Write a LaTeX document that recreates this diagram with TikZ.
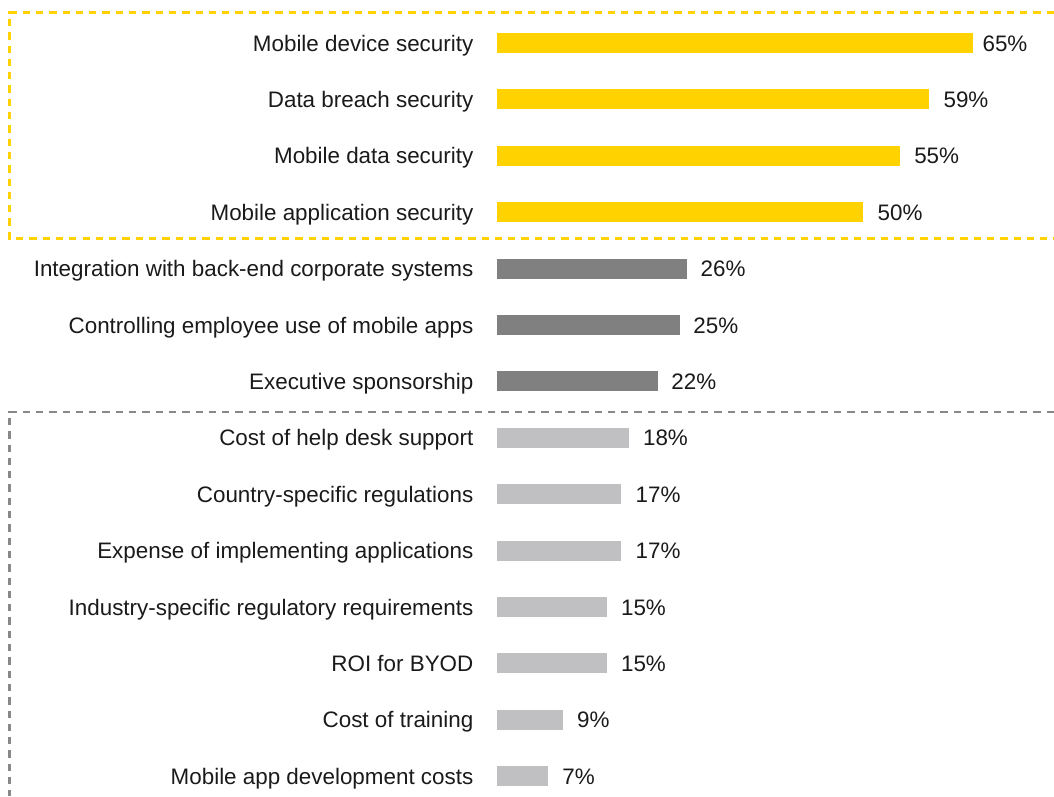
\documentclass[tikz,border=0pt]{standalone}
\usepackage{fontspec}
\setmainfont{Liberation Sans}
\definecolor{eyyellow}{RGB}{255, 210, 0}
\definecolor{bargrey}{RGB}{128, 128, 128}
\definecolor{barlight}{RGB}{192, 191, 193}
\definecolor{dashgrey}{RGB}{136, 136, 136}
\definecolor{inkblack}{RGB}{26, 26, 26}
\usetikzlibrary{positioning}

\begin{document}
\begin{tikzpicture}[x=1pt, y=-1pt,
    lab/.style={font=\fontsize{22.4}{26}\selectfont, text=inkblack, text height=16pt, text depth=0pt, inner sep=0pt},
    val/.style={lab},
    hbar/.style={anchor=west, inner sep=0pt, minimum height=20pt},
    ybar/.style={hbar, fill=eyyellow},
    dbar/.style={hbar, fill=bargrey},
    lbar/.style={hbar, fill=barlight},
    node distance=23pt]
  \useasboundingbox (0,0) rectangle (1054,796);

  % Top four: security
  \node[ybar, minimum width=65*7.33pt] (b1) at (496.5, 43) {};
  \node[ybar, minimum width=59*7.33pt] (b2) at (496.5, 99.4) {};
  \node[ybar, minimum width=55*7.33pt] (b3) at (496.5, 155.8) {};
  \node[ybar, minimum width=50*7.33pt] (b4) at (496.5, 212.2) {};
  % Middle three
  \node[dbar, minimum width=26*7.33pt] (b5) at (496.5, 268.6) {};
  \node[dbar, minimum width=25*7.33pt] (b6) at (496.5, 325) {};
  \node[dbar, minimum width=22*7.33pt] (b7) at (496.5, 381.4) {};
  % Cost and regulation
  \node[lbar, minimum width=18*7.33pt] (b8) at (496.5, 437.8) {};
  \node[lbar, minimum width=17*7.33pt] (b9) at (496.5, 494.2) {};
  \node[lbar, minimum width=17*7.33pt] (b10) at (496.5, 550.6) {};
  \node[lbar, minimum width=15*7.33pt] (b11) at (496.5, 607) {};
  \node[lbar, minimum width=15*7.33pt] (b12) at (496.5, 663.4) {};
  \node[lbar, minimum width=9*7.33pt] (b13) at (496.5, 719.8) {};
  \node[lbar, minimum width=7*7.33pt] (b14) at (496.5, 776.2) {};

  % Labels
  \node[lab, left=of b1] (l1) {Mobile device security};
  \node[lab, left=of b2] (l2) {Data breach security};
  \node[lab, left=of b3] (l3) {Mobile data security};
  \node[lab, left=of b4] (l4) {Mobile application security};
  \node[lab, left=of b5] (l5) {Integration with back-end corporate systems};
  \node[lab, left=of b6] (l6) {Controlling employee use of mobile apps};
  \node[lab, left=of b7] (l7) {Executive sponsorship};
  \node[lab, left=of b8] (l8) {Cost of help desk support};
  \node[lab, left=of b9] (l9) {Country-specific regulations};
  \node[lab, left=of b10] (l10) {Expense of implementing applications};
  \node[lab, left=of b11] (l11) {Industry-specific regulatory requirements};
  \node[lab, left=of b12] (l12) {ROI for BYOD};
  \node[lab, left=of b13] (l13) {Cost of training};
  \node[lab, left=of b14] (l14) {Mobile app development costs};

  % Values
  \node[val, right=9pt of b1] (v1) {65\%};
  \node[val, right=14pt of b2] (v2) {59\%};
  \node[val, right=14pt of b3] (v3) {55\%};
  \node[val, right=14pt of b4] (v4) {50\%};
  \node[val, right=13pt of b5] (v5) {26\%};
  \node[val, right=13pt of b6] (v6) {25\%};
  \node[val, right=13pt of b7] (v7) {22\%};
  \node[val, right=14pt of b8] (v8) {18\%};
  \node[val, right=14pt of b9] (v9) {17\%};
  \node[val, right=14pt of b10] (v10) {17\%};
  \node[val, right=14pt of b11] (v11) {15\%};
  \node[val, right=14pt of b12] (v12) {15\%};
  \node[val, right=14pt of b13] (v13) {9\%};
  \node[val, right=14pt of b14] (v14) {7\%};

  % Group frames
  \draw[eyyellow, line width=2.6pt, dash pattern=on 7.3pt off 6pt] (1054, 12.7) -- (9.5, 12.7) -- (9.5, 238.5) -- (1054, 238.5);
  \draw[dashgrey, line width=2.2pt, dash pattern=on 7.3pt off 6pt] (1054, 411.7) -- (9.5, 411.7) -- (9.5, 796);
\end{tikzpicture}
\end{document}
